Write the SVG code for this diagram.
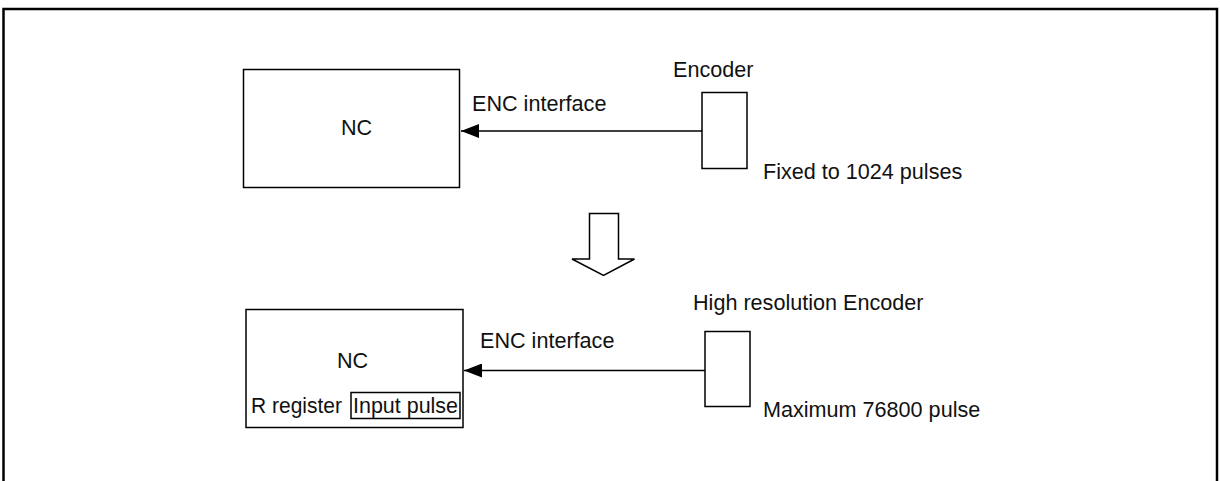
<svg xmlns="http://www.w3.org/2000/svg" width="1220" height="481" viewBox="0 0 1220 481">
<style>
.box{fill:#fff;stroke:#000;stroke-width:1.5}
.t{font-family:"Liberation Sans",Arial,sans-serif;font-size:21.6px;fill:#111}
.ln{stroke:#000;stroke-width:1.5;fill:none}
</style>
<defs>
<marker id="ah" markerWidth="18" markerHeight="14" refX="18" refY="7" orient="auto" markerUnits="userSpaceOnUse">
<path d="M0,0 L18,7 L0,14 Z" fill="#000"/>
</marker>
</defs>
<rect x="0" y="0" width="1220" height="481" fill="#fff"/>
<path d="M3.5,490 V9 H1217 V490" fill="none" stroke="#000" stroke-width="2.5"/>
<g id="nc1">
<rect class="box" x="243.5" y="69.5" width="216" height="118"/>
<text class="t" x="341" y="135">NC</text>
</g>
<g id="enc1">
<rect class="box" x="702" y="92.5" width="45" height="76"/>
<text class="t" x="673" y="77">Encoder</text>
<text class="t" x="763" y="179">Fixed to 1024 pulses</text>
</g>
<g id="nc2">
<rect class="box" x="246" y="309.5" width="217" height="118"/>
<text class="t" x="337" y="368">NC</text>
<text class="t" x="251" y="413" textLength="91" lengthAdjust="spacingAndGlyphs">R register</text>
<rect class="box" x="351" y="392.5" width="109" height="26"/>
<text class="t" x="353" y="413" textLength="105" lengthAdjust="spacingAndGlyphs">Input pulse</text>
</g>
<g id="enc2">
<rect class="box" x="705" y="331.5" width="45" height="75"/>
<text class="t" x="693" y="310">High resolution Encoder</text>
<text class="t" x="763" y="417">Maximum 76800 pulse</text>
</g>
<g id="connectors">
<line class="ln" x1="702" y1="131" x2="461" y2="131" marker-end="url(#ah)"/>
<text class="t" x="472" y="111">ENC interface</text>
<line class="ln" x1="705" y1="370.5" x2="464" y2="370.5" marker-end="url(#ah)"/>
<text class="t" x="480" y="348">ENC interface</text>
<path class="ln" d="M589.5,213.5 H618.5 V259 H634.5 L603.5,275.5 L572,259 H589.5 Z"/>
</g>
</svg>
